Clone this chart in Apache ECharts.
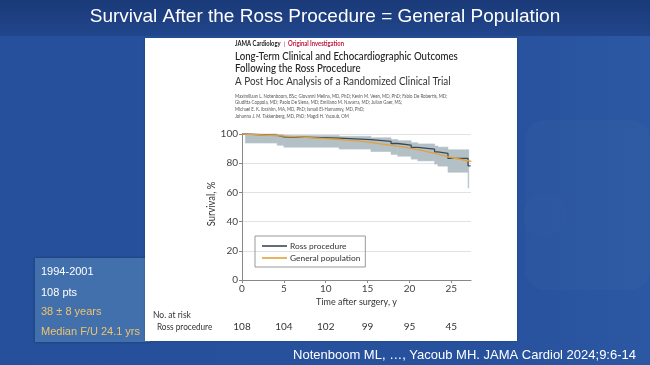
<!DOCTYPE html>
<html><head><meta charset="utf-8">
<script src="https://cdn.jsdelivr.net/npm/echarts@6/dist/echarts.min.js"></script>
<style>html,body{margin:0;padding:0;background:#27509a}#c{width:650px;height:365px}</style>
</head><body><div id="c"></div>
<script>
// ---- data ----
const xTicks = [0, 5, 10, 15, 20, 25];
const atRisk = [108, 104, 102, 99, 95, 45];
const rossT = [0, 0.4, 4.2, 5.0, 11.6, 15.4, 17.8, 18.6, 20.2, 21.0, 23.0, 23.4, 24.6, 27.0, 27.3];
const rossS = [100, 99.1, 98.1, 97.2, 96.2, 95.0, 93.5, 92.4, 90.8, 89.7, 87.8, 86.7, 83.3, 78.2, 78.2];
const ciT =    [0, 0.4, 4.2, 5.0, 11.6, 15.4, 17.8, 18.6, 20.2, 21.0, 23.0, 23.4, 24.6, 27.0, 27.08];
const ciLow =  [100, 93.8, 92.3, 91.0, 89.7, 88.0, 86.0, 84.8, 82.8, 81.6, 79.4, 78.0, 73.8, 63.0, 63.0];
const ciHigh = [100, 100, 99.6, 99.0, 98.4, 97.4, 96.2, 95.4, 94.0, 93.2, 91.8, 91.0, 89.2, 89.2, 89.2];
const genT = [0, 2.5, 5, 7.5, 10, 12.5, 15, 17.5, 20, 22.5, 25, 27.4];
const genS = [100, 99.3, 98.6, 97.7, 96.8, 95.8, 94.5, 92.6, 90.3, 87.4, 83.9, 81.2];
const seriesNames = ['Ross procedure', 'General population'];

const NARROW = 'Lato,"Open Sans",sans-serif';
const SLIDE = '"Liberation Sans",Arial,Helvetica,sans-serif';

function txt(x, y, text, font, fill, align, extra) {
  return Object.assign({
    type: 'text', z: -5, x, y,
    style: { x: 0, y: 0, text, font, fill, textAlign: align || 'left', align: align || 'left',
             textVerticalAlign: 'middle', verticalAlign: 'middle' }
  }, extra || {});
}

const authors = [
  'Maximiliaan L. Notenboom, BSc; Giovanni Melina, MD, PhD; Kevin M. Veen, MD, PhD; Fabio De Robertis, MD;',
  'Giuditta Coppola, MD; Paolo De Siena, MD; Emiliano M. Navarra, MD; Julian Gaer, MS;',
  'Michael E. K. Ibrahim, MA, MD, PhD; Ismail El-Hamamsy, MD, PhD;',
  'Johanna J. M. Takkenberg, MD, PhD; Magdi H. Yacoub, OM'
];
const authorY = [96, 102.8, 109.7, 116.6];
const SQ = { scaleX: 0.84 };

const graphics = [
  { type: 'rect', z: -100, shape: { x: 0, y: 0, width: 650, height: 365 },
    style: { fill: new echarts.graphic.LinearGradient(0, 0, 1, 0, [
      { offset: 0, color: '#26509b' }, { offset: 0.75, color: '#27519c' }, { offset: 1, color: '#2c57a2' }]) } },
  { type: 'rect', z: -99, shape: { x: 0, y: 0, width: 650, height: 36 },
    style: { fill: new echarts.graphic.LinearGradient(0, 0, 0, 1, [
      { offset: 0, color: '#1a3a78' }, { offset: 1, color: '#22468c' }]) } },
  { type: 'rect', z: -98, shape: { x: 525, y: 120, width: 125, height: 170, r: 20 },
    style: { fill: 'rgba(120,150,215,0.05)' } },
  { type: 'circle', z: -98, shape: { cx: 545, cy: 215, r: 22 },
    style: { fill: 'rgba(90,110,190,0.07)' } },
  // left info box
  { type: 'rect', z: -20, shape: { x: 35, y: 258, width: 115, height: 84 },
    style: { fill: '#4170ad', shadowBlur: 3, shadowColor: 'rgba(0,0,0,0.3)' } },
  // paper
  { type: 'rect', z: -10, shape: { x: 145, y: 38, width: 372, height: 303 },
    style: { fill: '#ffffff', shadowBlur: 2, shadowColor: 'rgba(0,0,0,0.25)' } },
  txt(325, 17, 'Survival After the Ross Procedure = General Population', '19px ' + SLIDE, '#ffffff', 'center'),
  txt(636, 355, 'Notenboom ML, \u2026, Yacoub MH. JAMA Cardiol 2024;9:6-14', '13px ' + SLIDE, '#ffffff', 'right'),
  txt(41, 272, '1994-2001', '11px ' + SLIDE, '#ffffff'),
  txt(41, 292.5, '108 pts', '11px ' + SLIDE, '#ffffff'),
  txt(41, 312, '38 \u00b1 8 years', '11px ' + SLIDE, '#f0c36b'),
  txt(41, 332, 'Median F/U 24.1 yrs', '11px ' + SLIDE, '#f0c36b'),
  { type: 'text', z: -5, x: 235, y: 44, scaleX: 0.9,
    style: { x: 0, y: 0, verticalAlign: 'middle', textVerticalAlign: 'middle',
      text: '{a|JAMA Cardiology}{b|  |  }{c|Original Investigation}',
      rich: { a: { font: 'bold 6.5px ' + NARROW, fill: '#222', color: '#222' },
              b: { font: '6.5px ' + NARROW, fill: '#c0143c', color: '#c0143c' },
              c: { font: 'bold 6.5px ' + NARROW, fill: '#c0143c', color: '#c0143c' } } } },
  txt(235, 56, 'Long-Term Clinical and Echocardiographic Outcomes', '500 11.5px ' + NARROW, '#222', 'left', SQ),
  txt(235, 68.5, 'Following the Ross Procedure', '500 11.5px ' + NARROW, '#222', 'left', SQ),
  txt(235, 81, 'A Post Hoc Analysis of a Randomized Clinical Trial', '11.5px ' + NARROW, '#333', 'left', { scaleX: 0.86 }),
  ...authors.map((a, i) => txt(235, authorY[i], a, '4.9px ' + NARROW, '#555', 'left', { scaleX: 0.9 })),
  txt(212, 204, 'Survival, %', '10.5px ' + NARROW, '#333', 'center', { rotation: Math.PI / 2, scaleX: 0.9 }),
  txt(153, 315, 'No. at risk', '10px ' + NARROW, '#333', 'left', { scaleX: 0.85 }),
  txt(157, 327, 'Ross procedure', '10px ' + NARROW, '#333', 'left', { scaleX: 0.82 })
];

const chart = echarts.init(document.getElementById('c'), null, { renderer: 'canvas' });
chart.setOption({
  animation: false,
  backgroundColor: 'transparent',
  graphic: { elements: graphics },
  grid: { left: 242, right: 179, top: 134, bottom: 85 },
  legend: {
    data: seriesNames, orient: 'vertical', left: 255, top: 236,
    padding: [6, 5, 5, 7], itemGap: 4, itemWidth: 25, itemHeight: 1.6, icon: 'rect',
    borderColor: '#999', borderWidth: 1,
    textStyle: { fontSize: 8.4, color: '#333', fontFamily: NARROW, padding: [0, 0, 0, -2] }
  },
  xAxis: [{
    type: 'value', min: 0, max: 27.35, interval: 5,
    name: 'Time after surgery, y', nameLocation: 'middle', nameGap: 18,
    nameTextStyle: { fontSize: 9, color: '#333', fontFamily: NARROW },
    axisLine: { lineStyle: { color: '#888', width: 1 } },
    axisTick: { show: true, length: 3, lineStyle: { color: '#888' }, customValues: xTicks },
    axisLabel: { customValues: xTicks, fontSize: 10, color: '#444', margin: 4, fontFamily: NARROW },
    splitLine: { show: false }
  }, {
    type: 'value', min: 0, max: 27.35, position: 'bottom', offset: 40,
    axisLine: { show: false }, axisTick: { show: false }, splitLine: { show: false },
    axisLabel: { customValues: xTicks, fontSize: 10, color: '#333', margin: 2, fontFamily: NARROW,
      formatter: v => { const i = xTicks.indexOf(v); return i >= 0 ? String(atRisk[i]) : ''; } }
  }],
  yAxis: {
    type: 'value', min: 0, max: 100, interval: 20,
    axisLine: { show: true, lineStyle: { color: '#888', width: 1 } },
    axisTick: { show: true, length: 3, lineStyle: { color: '#888' } },
    axisLabel: { fontSize: 10, color: '#444', margin: 4, fontFamily: NARROW },
    splitLine: { show: true, lineStyle: { color: '#e2e2e2', width: 1 } }
  },
  series: [
    { type: 'custom', name: 'ci', silent: true, z: 1,
      data: ciT.slice(0, -1).map((t, i) => [t, ciT[i + 1], ciLow[i + 1 === ciT.length - 1 ? i + 1 : i], ciHigh[i]]),
      encode: { x: [0, 1], y: [2, 3] },
      renderItem: (params, api) => {
        const p1 = api.coord([api.value(0), api.value(3)]);
        const p2 = api.coord([api.value(1), api.value(2)]);
        return { type: 'rect', shape: { x: p1[0], y: p1[1], width: p2[0] - p1[0], height: p2[1] - p1[1] },
                 style: { fill: '#b3c1c7', stroke: '#b3c1c7', lineWidth: 0.6 } };
      } },
    { type: 'line', name: seriesNames[0], data: rossT.map((t, i) => [t, rossS[i]]), step: 'end',
      symbol: 'none', color: '#3a4955', lineStyle: { color: '#3a4955', width: 1.3 }, z: 3 },
    { type: 'line', name: seriesNames[1], data: genT.map((t, i) => [t, genS[i]]), smooth: 0.4,
      symbol: 'none', color: '#e3a13c', lineStyle: { color: '#e3a13c', width: 1.3 }, z: 4 }
  ]
});
</script></body></html>
